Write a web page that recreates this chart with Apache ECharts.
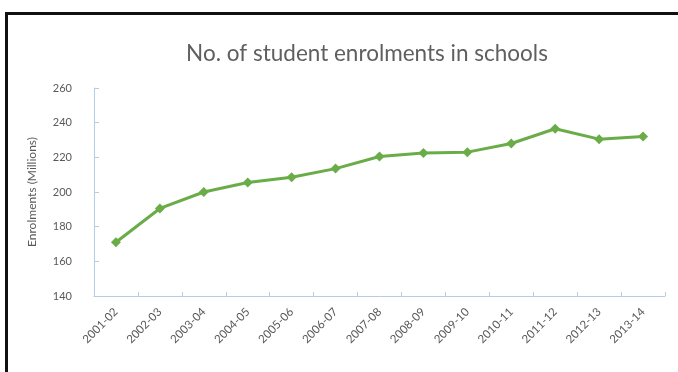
<!DOCTYPE html>
<html>
<head>
<meta charset="utf-8">
<script src="https://cdn.jsdelivr.net/npm/echarts@6/dist/echarts.min.js"></script>
<style>
  html, body { margin: 0; padding: 0; background: #fff; }
  #chart { width: 678px; height: 372px; }
</style>
</head>
<body>
<div id="chart"></div>
<script>
const years = ['2001-02', '2002-03', '2003-04', '2004-05', '2005-06', '2006-07', '2007-08',
  '2008-09', '2009-10', '2010-11', '2011-12', '2012-13', '2013-14'];
const enrolments = [171, 190.5, 200, 205.5, 208.5, 213.5, 220.5, 222.5, 223, 228, 236.5, 230.5, 232];
const yTicks = { min: 140, max: 260, step: 20 };

const chart = echarts.init(document.getElementById('chart'));
const textGrey = '#595959';
const axisBlue = '#b4cde6';

chart.setOption({
  animation: false,
  backgroundColor: '#fff',
  textStyle: { fontFamily: 'Lato' },
  title: {
    text: 'No. of student enrolments in schools',
    left: 362,
    textAlign: 'center',
    top: 37,
    textStyle: { fontSize: 22.5, fontWeight: 'normal', color: '#5f5f5f', fontFamily: 'Lato' }
  },
  grid: { left: 94, right: 13, top: 88, bottom: 76 },
  xAxis: {
    type: 'category',
    data: years,
    boundaryGap: true,
    axisLine: { lineStyle: { color: axisBlue } },
    axisTick: { show: true, inside: true, length: 4, lineStyle: { color: axisBlue } },
    axisLabel: { rotate: 45, fontSize: 11.5, color: textGrey, margin: 14, interval: 0 }
  },
  yAxis: {
    type: 'value',
    min: yTicks.min,
    max: yTicks.max,
    interval: yTicks.step,
    name: 'Enrolments (Millions)',
    nameLocation: 'middle',
    nameRotate: 90,
    nameGap: 56,
    nameTextStyle: { fontSize: 12, color: textGrey },
    axisLine: { show: true, lineStyle: { color: axisBlue } },
    axisTick: { show: true, inside: true, length: 5, lineStyle: { color: axisBlue } },
    axisLabel: { fontSize: 11, color: textGrey, margin: 22 },
    splitLine: { show: false }
  },
  series: [{
    type: 'line',
    data: enrolments,
    symbol: 'diamond',
    symbolSize: 10,
    lineStyle: { color: '#6aad48', width: 3 },
    itemStyle: { color: '#6aad48' }
  }],
  graphic: [
    { type: 'rect', shape: { x: 5, y: 12, width: 3, height: 360 }, style: { fill: '#111' } },
    { type: 'rect', shape: { x: 5, y: 12, width: 673, height: 3 }, style: { fill: '#111' } }
  ]
});
</script>
</body>
</html>
